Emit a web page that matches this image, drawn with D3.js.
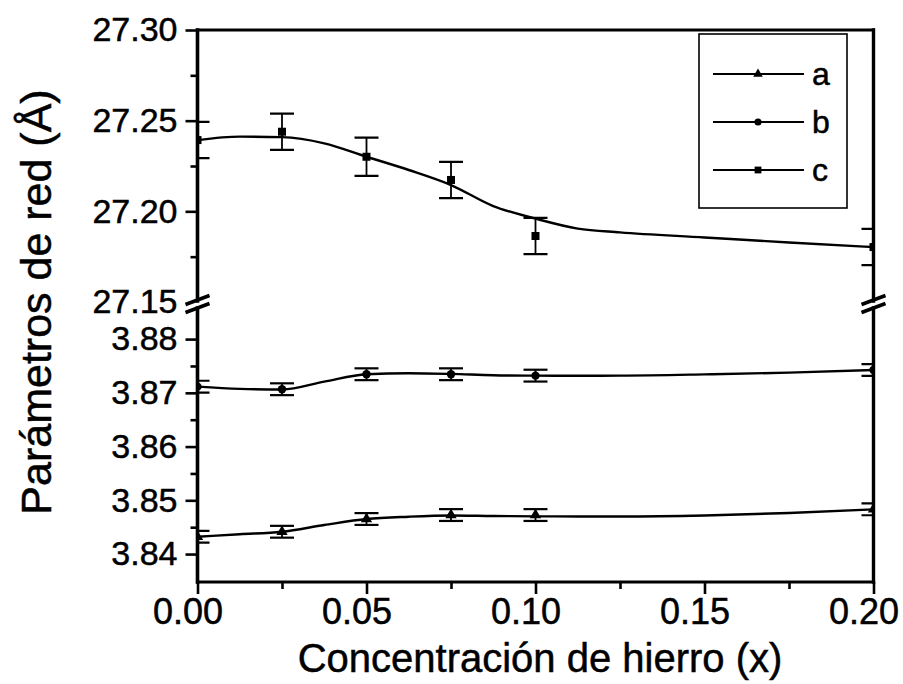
<!DOCTYPE html>
<html>
<head>
<meta charset="utf-8">
<script src="https://cdn.jsdelivr.net/npm/d3@7"></script>
<style>
  html, body { margin: 0; padding: 0; background: #fff; }
  svg { display: block; }
  text { font-family: Arial, "Liberation Sans", sans-serif; fill: #000; stroke: #000; stroke-width: 0.5px; }
</style>
</head>
<body>
<svg id="chart" width="903" height="684"></svg>
<script>
// ---------- data ----------
const xPoints = [0, 0.025, 0.05, 0.075, 0.10, 0.20];
const cValues = [27.2393, 27.2439, 27.2301, 27.2173, 27.1864, 27.1803];
const cErrors = [0.010, 0.010, 0.0105, 0.010, 0.010, 0.010];
const bValues = [3.87115, 3.87067, 3.87346, 3.87346, 3.87320, 3.87426];
const bErrors = [0.0011, 0.0011, 0.0011, 0.0011, 0.0011, 0.0011];
const aValues = [3.84322, 3.84415, 3.84652, 3.84726, 3.84726, 3.84832];
const aErrors = [0.0011, 0.0011, 0.0011, 0.0011, 0.0011, 0.0011];

// smooth fitted curves
const fitX = [0, 0.0125, 0.025, 0.0375, 0.05, 0.0625, 0.075, 0.0875, 0.10, 0.1125, 0.125, 0.15, 0.175, 0.20];
const cFit = [27.2393, 27.2412, 27.2409, 27.2375, 27.2301, 27.2228, 27.2145, 27.2029, 27.1960, 27.1905, 27.1884, 27.1856, 27.1828, 27.1803];
const bFit = [3.87115, 3.87073, 3.87063, 3.87209, 3.87346, 3.87365, 3.87352, 3.87328, 3.87320, 3.87318, 3.87320, 3.87343, 3.87376, 3.87426];
const aFit = [3.84322, 3.84369, 3.84415, 3.84540, 3.84652, 3.84695, 3.84717, 3.84708, 3.84702, 3.84699, 3.84698, 3.84717, 3.84764, 3.84832];

const xTicks = [0, 0.05, 0.10, 0.15, 0.20];
const xMinor = [0.025, 0.075, 0.125, 0.175];
const yTopTicks = [27.20, 27.25, 27.30];
const yTopMinor = [27.175, 27.225, 27.275];
const yBotTicks = [3.84, 3.85, 3.86, 3.87, 3.88];
const yBotMinor = [3.845, 3.855, 3.865, 3.875];
const legendLabels = ["a", "b", "c"];

// ---------- layout ----------
const L = 197.5, R = 873.5, T = 30, B = 582;
const breakTop = 301, breakBot = 308;

const svg = d3.select("#chart");
const x = d3.scaleLinear().domain([0, 0.20]).range([L, R]);
const yTop = d3.scaleLinear().domain([27.15, 27.30]).range([302, T]);
const yBot = d3.scaleLinear().domain([3.8348, 3.8856]).range([B, 309]);

svg.append("defs").append("clipPath").attr("id", "plotClip")
  .append("rect").attr("x", L).attr("y", T).attr("width", R - L).attr("height", B - T);

const data = svg.append("g").attr("clip-path", "url(#plotClip)");

const line = (ys) => d3.line().x(d => x(d[0])).y(d => ys(d[1])).curve(d3.curveMonotoneX);

function drawMarker(g, type, cx, cy, s) {
  if (type === "square") {
    g.append("rect").attr("x", cx - 4 * s).attr("y", cy - 4 * s).attr("width", 8 * s).attr("height", 8 * s).attr("fill", "#000");
  } else if (type === "circle") {
    g.append("circle").attr("cx", cx).attr("cy", cy).attr("r", 4.2 * s).attr("fill", "#000");
  } else {
    g.append("path").attr("d", d3.symbol().type(d3.symbolTriangle).size(55 * s * s)()).attr("transform", `translate(${cx},${cy})`).attr("fill", "#000");
  }
}

function drawSeries(vals, errs, fit, ys, marker, capW) {
  data.append("path")
    .datum(fitX.map((xx, i) => [xx, fit[i]]))
    .attr("d", line(ys))
    .attr("fill", "none").attr("stroke", "#000").attr("stroke-width", 2.4);
  const g = data.append("g");
  xPoints.forEach((xx, i) => {
    const cx = x(xx), y1 = ys(vals[i] + errs[i]), y2 = ys(vals[i] - errs[i]);
    g.append("line").attr("x1", cx).attr("x2", cx).attr("y1", y1).attr("y2", y2)
      .attr("stroke", "#000").attr("stroke-width", 1.8);
    [y1, y2].forEach(yy => g.append("line").attr("x1", cx - capW / 2).attr("x2", cx + capW / 2)
      .attr("y1", yy).attr("y2", yy).attr("stroke", "#000").attr("stroke-width", 2.2));
    drawMarker(g, marker, cx, ys(vals[i]), 1);
  });
}

drawSeries(cValues, cErrors, cFit, yTop, "square", 24);
drawSeries(bValues, bErrors, bFit, yBot, "circle", 24);
drawSeries(aValues, aErrors, aFit, yBot, "triangle", 24);

// ---------- frame ----------
const frame = svg.append("g").attr("stroke", "#000").attr("fill", "none").attr("stroke-linecap", "square");
frame.append("line").attr("x1", L).attr("x2", R).attr("y1", T).attr("y2", T).attr("stroke-width", 3);
frame.append("line").attr("x1", L).attr("x2", R).attr("y1", B).attr("y2", B).attr("stroke-width", 3.2);
[[L, 3.6], [R, 3.4]].forEach(([xx, w]) => {
  frame.append("line").attr("x1", xx).attr("x2", xx).attr("y1", T).attr("y2", breakTop).attr("stroke-width", w);
  frame.append("line").attr("x1", xx).attr("x2", xx).attr("y1", breakBot).attr("y2", B).attr("stroke-width", w);
  [breakTop - 1, breakBot].forEach(yy => {
    frame.append("line").attr("x1", xx - 12).attr("y1", yy + 4.5).attr("x2", xx + 12).attr("y2", yy - 4.5)
      .attr("stroke-width", 3.6).attr("stroke-linecap", "butt");
  });
});

// ---------- axes ----------
const fmt2 = d3.format(".2f");
const FONT = "Arial, 'Liberation Sans', sans-serif";
function styleAxis(g) {
  g.select(".domain").remove();
  g.selectAll(".tick line").attr("stroke", "#000").attr("stroke-width", 2.6);
}
svg.append("g").attr("transform", `translate(0,${B})`)
  .call(d3.axisBottom(x).tickValues(xTicks).tickSize(12).tickPadding(4).tickFormat(fmt2))
  .call(styleAxis)
  .call(g => g.selectAll("text").attr("x", -10).style("font-size", "36px").style("font-family", FONT));
svg.append("g").attr("transform", `translate(0,${B})`)
  .call(d3.axisBottom(x).tickValues(xMinor).tickSize(7).tickFormat(""))
  .call(styleAxis);

svg.append("g").attr("transform", `translate(${L},0)`)
  .call(d3.axisLeft(yTop).tickValues(yTopTicks).tickSize(12).tickPadding(8).tickFormat(fmt2))
  .call(styleAxis)
  .call(g => g.selectAll("text").style("font-size", "34px").style("font-family", FONT));
svg.append("g").attr("transform", `translate(${L},0)`)
  .call(d3.axisLeft(yTop).tickValues(yTopMinor).tickSize(7).tickFormat(""))
  .call(styleAxis);
svg.append("g").attr("transform", `translate(${L},0)`)
  .call(d3.axisLeft(yTop).tickValues([27.15]).tickSize(0).tickPadding(20).tickFormat(fmt2))
  .call(styleAxis)
  .call(g => g.selectAll("text").attr("dy", "0.3em").style("font-size", "34px").style("font-family", FONT));

svg.append("g").attr("transform", `translate(${L},0)`)
  .call(d3.axisLeft(yBot).tickValues(yBotTicks).tickSize(12).tickPadding(8).tickFormat(fmt2))
  .call(styleAxis)
  .call(g => g.selectAll("text").style("font-size", "34px").style("font-family", FONT));
svg.append("g").attr("transform", `translate(${L},0)`)
  .call(d3.axisLeft(yBot).tickValues(yBotMinor).tickSize(7).tickFormat(""))
  .call(styleAxis);

// ---------- titles ----------
svg.append("text").attr("x", 540).attr("y", 672).attr("text-anchor", "middle")
  .style("font-size", "40px").text("Concentración de hierro (x)");
svg.append("text").attr("transform", "translate(51,302) rotate(-90)").attr("text-anchor", "middle")
  .style("font-size", "43px").text("Parámetros de red (Å)");

// ---------- legend ----------
const lg = svg.append("g");
lg.append("rect").attr("x", 699).attr("y", 34).attr("width", 148).attr("height", 174)
  .attr("fill", "#fff").attr("stroke", "#000").attr("stroke-width", 1.6);
const legendY = [74, 122, 170];
const legendMarkers = ["triangle", "circle", "square"];
legendLabels.forEach((lab, i) => {
  lg.append("line").attr("x1", 713).attr("x2", 804).attr("y1", legendY[i]).attr("y2", legendY[i])
    .attr("stroke", "#000").attr("stroke-width", 1.8);
  drawMarker(lg, legendMarkers[i], 758, legendY[i], 0.85);
  lg.append("text").attr("x", 812).attr("y", legendY[i] + 11).style("font-size", "32px").text(lab);
});
</script>
</body>
</html>
